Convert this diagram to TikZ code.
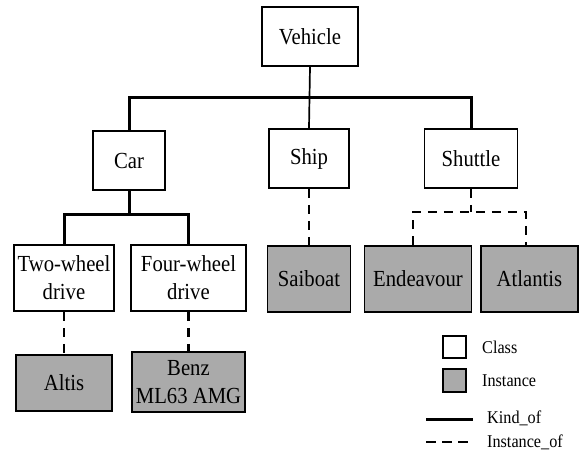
\documentclass[tikz,border=0pt]{standalone}
\usepackage{fontspec}
\setmainfont[FakeStretch=0.9]{Liberation Serif}
\definecolor{instfill}{RGB}{170,170,170}
\begin{document}
\begin{tikzpicture}[x=1pt,y=-1pt,
  box/.style={draw=black,line width=1.8pt,inner sep=1pt,align=center,
    font=\fontsize{23}{28}\selectfont},
  classbox/.style={box,fill=white},
  instbox/.style={box,fill=instfill},
  kind/.style={line width=3pt},
  kindthin/.style={line width=1.7pt},
  inst/.style={line width=2.7pt,dash pattern=on 9.5pt off 6.5pt},
  legtext/.style={anchor=west,inner sep=0pt,font=\fontsize{18}{20}\selectfont}]
\useasboundingbox (0,0) rectangle (582,452);
% classes
\node[classbox,minimum width=96pt,minimum height=59pt] (vehicle) at (310,36.5) {Vehicle};
\node[classbox,minimum width=72pt,minimum height=59pt] (car) at (129,160.5) {Car};
\node[classbox,minimum width=80pt,minimum height=59pt] (ship) at (309,158.5) {Ship};
\node[classbox,minimum width=93pt,minimum height=59pt] (shuttle) at (471,158.5) {Shuttle};
\node[classbox,minimum width=100pt,minimum height=66pt] (two) at (64,278) {Two-wheel\\drive};
\node[classbox,minimum width=115pt,minimum height=66pt] (four) at (188.5,278) {Four-wheel\\drive};
% instances
\node[instbox,minimum width=83pt,minimum height=66pt] (saiboat) at (309,279) {Saiboat};
\node[instbox,minimum width=107pt,minimum height=66pt] (endeavour) at (418,279) {Endeavour};
\node[instbox,minimum width=97pt,minimum height=66pt] (atlantis) at (529.5,279) {Atlantis};
\node[instbox,minimum width=96pt,minimum height=56pt] (altis) at (64,383) {Altis};
\node[instbox,minimum width=113pt,minimum height=60pt] (benz) at (188.5,382) {Benz\\ML63 AMG};
% bars
\coordinate (topbar) at (0,98);
\coordinate (carbar) at (0,214);
\coordinate (shbar) at (0,212);
\coordinate (eleft) at (413,212);
\coordinate (aright) at (526,212);
% kind_of connectors
\draw[kindthin] (vehicle.south) -- (ship.north);
\draw[kind] (car.north) -- (car.north |- topbar) -- (shuttle.north |- topbar) -- (shuttle.north);
\draw[kind] (car.south) -- (car.south |- carbar);
\draw[kind] (two.north) -- (two.north |- carbar) -- (four.north |- carbar) -- (four.north);
% instance_of connectors
\draw[inst] (ship.south) -- (saiboat.north);
\draw[inst] (two.south) -- (altis.north);
\draw[inst] (four.south) -- (benz.north);
\draw[inst] (shuttle.south) -- (shuttle.south |- shbar);
\draw[inst] (eleft |- endeavour.north) -- (eleft) -- (aright) -- (aright |- atlantis.north);
% legend
\node[classbox,minimum width=23pt,minimum height=22pt] (lclass) at (454.5,347) {};
\node[instbox,minimum width=23pt,minimum height=23pt] (linst) at (454.5,380.5) {};
\node[legtext] (tclass) at (482,347) {Class};
\node[legtext] (tinst) at (482,381) {Instance};
\coordinate (k1) at (426,419);
\coordinate (k2) at (473,419);
\coordinate (i1) at (426,442);
\coordinate (i2) at (473,442);
\draw[kind] (k1) -- (k2);
\draw[inst] (i1) -- (i2);
\node[legtext] (tkind) at (487,418) {Kind\_of};
\node[legtext] (tinstof) at (487,442) {Instance\_of};
\end{tikzpicture}
\end{document}
